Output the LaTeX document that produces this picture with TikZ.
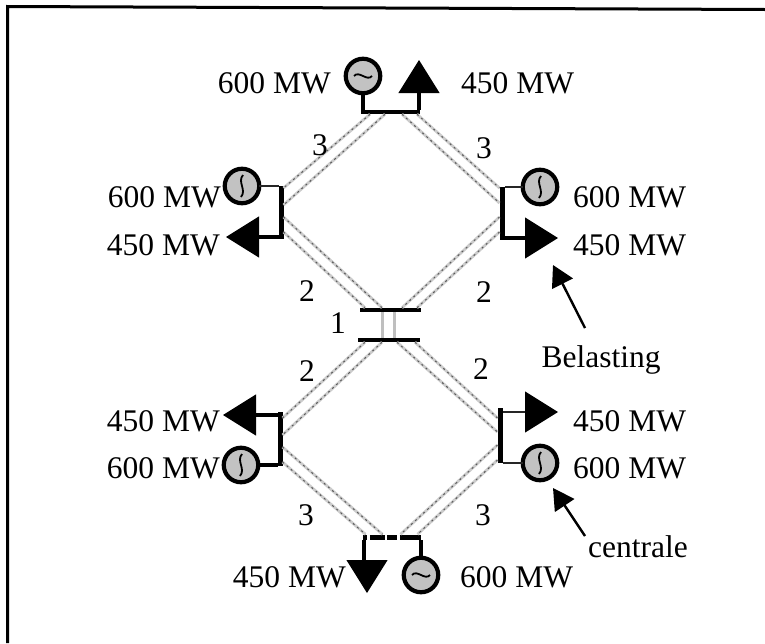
\documentclass[tikz,border=0pt]{standalone}
\usepackage{fontspec}
\setmainfont{Liberation Serif}
\usetikzlibrary{shapes.geometric,arrows.meta}
\definecolor{gfill}{gray}{0.76}
\tikzset{
  x=1pt,y=-1pt,
  lbl/.style={font=\fontsize{31.5}{34}\selectfont,inner sep=0pt,text=black},
  hbus/.style={draw=none,fill=black,minimum width=#1,minimum height=4.5pt,inner sep=0pt,outer sep=0pt},
  vbus/.style={draw=none,fill=black,minimum height=#1,minimum width=5pt,inner sep=0pt,outer sep=0pt},
  gen/.style={circle,draw=black,line width=4.2pt,fill=gfill,minimum size=34.5pt,inner sep=0pt,outer sep=0pt},
  load/.style={isosceles triangle,isosceles triangle apex angle=64,fill=black,draw=none,minimum height=33pt,minimum width=40pt,inner sep=0pt,outer sep=0pt,shape border rotate=#1,anchor=apex},
  stub/.style={draw=black,line width=3.2pt},
  thinstub/.style={draw=black!85,line width=2pt},
  glyph/.style={draw=black,line width=1.8pt},
  feeder/.style={draw=gray!40,line width=2.8pt,postaction={draw=black!65,line width=1pt,dash pattern=on 2pt off 3.5pt}},
  tie/.style={draw=gray!50,line width=3pt},
  pointer/.style={draw=black,line width=2.4pt,-{Triangle[length=21pt,width=23pt]}}
}
\begin{document}
\begin{tikzpicture}
\useasboundingbox (0,0) rectangle (765,643);
\draw[line width=3pt] (7.5,643) -- (7.5,6.5) -- (765,9.5);
% buses
\node[hbus=59pt] (bT) at (390,112) {};
\node[vbus=53pt] (bL) at (281,212) {};
\node[vbus=53pt] (bR) at (502,213) {};
\node[hbus=61pt] (cT) at (390,310) {};
\node[hbus=62pt] (cB) at (389,340) {};
\node[vbus=54pt] (dL) at (280,439) {};
\node[vbus=55pt] (dR) at (500,435) {};
\node[inner sep=0pt,minimum width=57pt,minimum height=5pt] (bB) at (391.5,537) {};
\draw[line width=5pt,dash pattern=on 4pt off 3pt on 15pt off 2pt on 10pt off 3pt on 20pt off 0pt] (bB.west) -- (bB.east);
% feeders
\draw[feeder] ([xshift=-20pt]bT.south) -- ([yshift=24pt]bL.east);
\draw[feeder] ([xshift=-5pt]bT.south) -- ([yshift=7pt]bL.east);
\draw[feeder] ([xshift=12pt]bT.south) -- ([yshift=10pt]bR.west);
\draw[feeder] ([xshift=27pt]bT.south) -- ([yshift=25pt]bR.west);
\draw[feeder] ([yshift=-5pt]bL.east) -- ([xshift=-8pt]cT.north);
\draw[feeder] ([yshift=-20pt]bL.east) -- ([xshift=-25pt]cT.north);
\draw[feeder] ([yshift=-4pt]bR.west) -- ([xshift=12pt]cT.north);
\draw[feeder] ([yshift=-19pt]bR.west) -- ([xshift=27pt]cT.north);
\draw[feeder] ([xshift=-24pt]cB.south) -- ([yshift=21pt]dL.east);
\draw[feeder] ([xshift=-7pt]cB.south) -- ([yshift=4pt]dL.east);
\draw[feeder] ([xshift=8pt]cB.south) -- ([yshift=3pt]dR.west);
\draw[feeder] ([xshift=26pt]cB.south) -- ([yshift=17pt]dR.west);
\draw[feeder] ([yshift=-8pt]dL.east) -- ([xshift=-9pt]bB.north);
\draw[feeder] ([yshift=-23pt]dL.east) -- ([xshift=-26pt]bB.north);
\draw[feeder] ([yshift=-10pt]dR.west) -- ([xshift=9pt]bB.north);
\draw[feeder] ([yshift=-25pt]dR.west) -- ([xshift=26pt]bB.north);
\draw[tie] ([xshift=-8pt]cT.south) -- ([xshift=-7pt]cB.north);
\draw[tie] ([xshift=4pt]cT.south) -- ([xshift=5pt]cB.north);
% generators
\node[gen] (g1) at (363,76) {};
\node[gen] (g2) at (242,186) {};
\node[gen] (g3) at (540,187) {};
\node[gen] (g4) at (241,465) {};
\node[gen] (g5) at (540,463) {};
\node[gen] (g6) at (421,575) {};
% generator glyphs
\draw[glyph] (354,76) .. controls (359,70) and (367,82) .. (372,76);
\draw[glyph] (243,175) .. controls (237,182) and (247,190) .. (241,197);
\draw[glyph] (541,176) .. controls (535,183) and (545,191) .. (539,198);
\draw[glyph] (242,454) .. controls (236,461) and (246,469) .. (240,476);
\draw[glyph] (541,452) .. controls (535,459) and (545,467) .. (539,474);
\draw[glyph] (412,575) .. controls (417,569) and (425,581) .. (430,575);
% loads
\node[load=90] (l1) at (419,60) {};
\node[load=180] (l2) at (226,237) {};
\node[load=0] (l3) at (558,238) {};
\node[load=180] (l4) at (223,415) {};
\node[load=0] (l5) at (558,412) {};
\node[load=-90] (l6) at (367,593) {};
% stubs
\draw[stub] (g1.south) -- (g1.south |- bT.north);
\draw[stub] (l1.lower side) -- (l1.lower side |- bT.north);
\draw[thinstub] (g2.east) -- (g2.east -| bL.west);
\draw[stub] (l2.lower side) -- (l2.lower side -| bL.west);
\draw[thinstub] (g3.west) -- (g3.west -| bR.east);
\draw[stub] (l3.lower side) -- (l3.lower side -| bR.east);
\draw[stub] (l4.lower side) -- (l4.lower side -| dL.west);
\draw[stub] (g4.east) -- (g4.east -| dL.west);
\draw[thinstub] (l5.lower side) -- (l5.lower side -| dR.east);
\draw[thinstub] (g5.west) -- (g5.west -| dR.east);
\draw[stub] ([xshift=-3pt]l6.lower side) -- ([xshift=-3pt]l6.lower side |- bB.south);
\draw[stub] (g6.north) -- (g6.north |- bB.south);
% labels
\node[lbl,anchor=base east] (t1) at (331,93) {600 MW};
\node[lbl,anchor=base west] (t2) at (461,93) {450 MW};
\node[lbl,anchor=base east] (t3) at (221,207) {600 MW};
\node[lbl,anchor=base east] (t4) at (220,255) {450 MW};
\node[lbl,anchor=base west] (t5) at (573,207) {600 MW};
\node[lbl,anchor=base west] (t6) at (573,255) {450 MW};
\node[lbl,anchor=base east] (t7) at (220,431) {450 MW};
\node[lbl,anchor=base east] (t8) at (220,478) {600 MW};
\node[lbl,anchor=base west] (t9) at (573,431) {450 MW};
\node[lbl,anchor=base west] (t10) at (573,478) {600 MW};
\node[lbl,anchor=base east] (t11) at (346,587) {450 MW};
\node[lbl,anchor=base west] (t12) at (460,587) {600 MW};
\node[lbl,anchor=base] (n1) at (320,155) {3};
\node[lbl,anchor=base] (n2) at (484,158) {3};
\node[lbl,anchor=base] (n3) at (307,301) {2};
\node[lbl,anchor=base] (n4) at (484,302) {2};
\node[lbl,anchor=base] (n5) at (338,333) {1};
\node[lbl,anchor=base] (n6) at (307,381) {2};
\node[lbl,anchor=base] (n7) at (481,379) {2};
\node[lbl,anchor=base] (n8) at (306,525) {3};
\node[lbl,anchor=base] (n9) at (483,525) {3};
\node[lbl,anchor=base] (bel) at (601,367) {Belasting};
\node[lbl,anchor=base] (cen) at (638,557) {centrale};
\coordinate (belTail) at (585,328);
\coordinate (belTip) at (553,265);
\coordinate (cenTail) at (585,536);
\coordinate (cenTip) at (553,488);
\draw[pointer] (belTail) -- (belTip);
\draw[pointer] (cenTail) -- (cenTip);
\end{tikzpicture}
\end{document}
